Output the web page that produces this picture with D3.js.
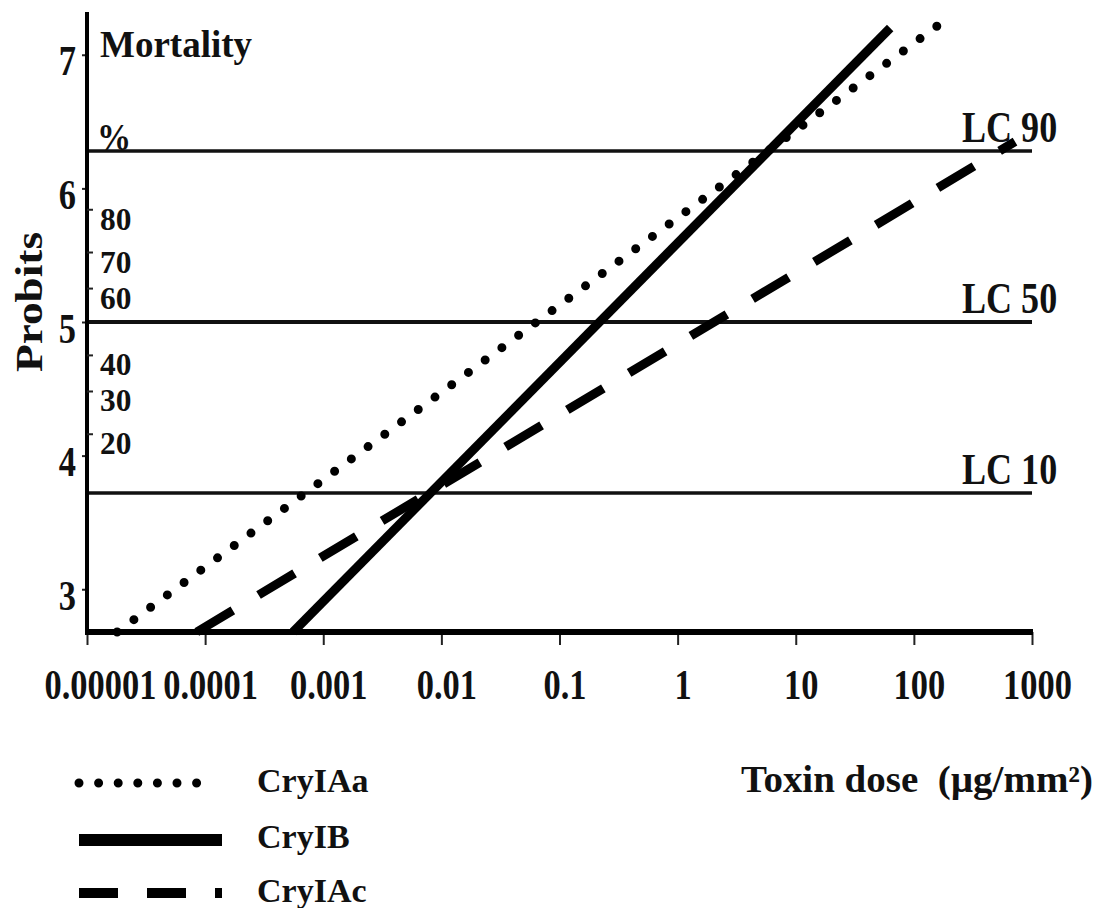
<!DOCTYPE html>
<html>
<head>
<meta charset="utf-8">
<script src="https://cdn.jsdelivr.net/npm/d3@7"></script>
<style>
  body { margin: 0; background: #fff; }
  svg text { font-family: 'Liberation Serif', 'Times New Roman', serif; font-weight: bold; fill: #111; }
</style>
</head>
<body>
<svg id="chart" width="1110" height="908"></svg>
<script>
// dose axis (log) and probit axis
const doseTicks = [0.00001, 0.0001, 0.001, 0.01, 0.1, 1, 10, 100, 1000];
const doseLabels = ['0.00001', '0.0001', '0.001', '0.01', '0.1', '1', '10', '100', '1000'];
const probitTicks = [3, 4, 5, 6, 7];

// mortality % marks on the probit axis
const mortalityLabels = ['80', '70', '60', '40', '30', '20'];
const mortalityProbits = [5.84, 5.52, 5.25, 4.75, 4.48, 4.16];

// lethal concentration reference lines
const lcLabels = ['LC 90', 'LC 50', 'LC 10'];
const lcProbits = [6.28, 5.0, 3.72];

// regression lines, [dose, probit] at both ends
const seriesNames = ['CryIAa', 'CryIB', 'CryIAc'];
const cryIAa = [[1.8e-5, 2.68], [160, 7.22]];
const cryIB = [[5.55e-4, 2.68], [63, 7.2]];
const cryIAc = [[8.5e-5, 2.68], [718, 6.35]];

const width = 1110;
const height = 908;
const svg = d3.select('#chart');

const x = d3.scaleLog().domain([1e-5, 1000]).range([87, 1032]);
const y = d3.scaleLinear().domain([2.68, 7.32]).range([632, 12]);

const styles = {
  CryIAa: { width: 9, dash: '0 20.8', cap: 'round' },
  CryIB: { width: 9, dash: null, cap: 'butt' },
  CryIAc: { width: 9, dash: '42 30', cap: 'butt' },
};

// LC lines
lcProbits.forEach((p, i) => {
  svg.append('line')
    .attr('x1', x(1e-5)).attr('x2', x(1000))
    .attr('y1', y(p)).attr('y2', y(p))
    .attr('stroke', '#111')
    .attr('stroke-width', p === 5 ? 4 : 3.5);
  svg.append('text')
    .attr('transform', `translate(962,${y(p) - 9}) scale(0.82,1)`)
    .attr('font-size', 44)
    .text(lcLabels[i]);
});

// series lines
const line = d3.line().x(d => x(d[0])).y(d => y(d[1]));
[cryIAa, cryIB, cryIAc].forEach((pts, i) => {
  const s = styles[seriesNames[i]];
  svg.append('path')
    .attr('d', line(pts))
    .attr('fill', 'none')
    .attr('stroke', '#000')
    .attr('stroke-width', s.width)
    .attr('stroke-linecap', s.cap)
    .attr('stroke-dasharray', s.dash);
});

// x axis
const xAxis = d3.axisBottom(x)
  .tickValues(doseTicks)
  .tickFormat((d, i) => doseLabels[i])
  .tickSize(13)
  .tickSizeOuter(0);

const gx = svg.append('g')
  .attr('transform', `translate(0,${y(2.68)})`)
  .call(xAxis);
gx.select('.domain').remove();
gx.selectAll('.tick line').attr('stroke', '#222').attr('stroke-width', 2);
gx.selectAll('.tick text')
  .attr('y', null).attr('dy', null)
  .attr('transform', (d, i) => `translate(${i === 0 ? 13 : 5},67) scale(0.82,1)`)
  .attr('font-size', 42)
  .attr('fill', '#111')
  .attr('font-family', null);

svg.append('line')
  .attr('x1', x(1e-5) - 2).attr('x2', x(1000) + 1)
  .attr('y1', y(2.68)).attr('y2', y(2.68))
  .attr('stroke', '#000').attr('stroke-width', 6);

// y axis
const yAxis = d3.axisLeft(y)
  .tickValues(probitTicks)
  .tickFormat(d3.format('d'))
  .tickSize(5)
  .tickSizeOuter(0);

const gy = svg.append('g')
  .attr('transform', `translate(${x(1e-5)},0)`)
  .call(yAxis);
gy.select('.domain').remove();
gy.selectAll('.tick line').attr('stroke', '#222').attr('stroke-width', 2);
gy.selectAll('.tick text')
  .attr('x', null).attr('dy', null)
  .attr('transform', 'translate(-11,20) scale(0.82,1)')
  .attr('font-size', 42)
  .attr('fill', '#111')
  .attr('font-family', null);

svg.append('line')
  .attr('x1', x(1e-5)).attr('x2', x(1e-5))
  .attr('y1', y(7.32)).attr('y2', y(2.68) + 3)
  .attr('stroke', '#000').attr('stroke-width', 4);

// mortality scale
const mort = svg.append('g');
mortalityProbits.forEach((p, i) => {
  mort.append('line')
    .attr('x1', x(1e-5)).attr('x2', x(1e-5) + 6)
    .attr('y1', y(p)).attr('y2', y(p))
    .attr('stroke', '#222').attr('stroke-width', 2);
  mort.append('text')
    .attr('transform', `translate(100,${y(p) + 20}) scale(0.98,1)`)
    .attr('font-size', 32)
    .text(mortalityLabels[i]);
});

svg.append('text')
  .attr('x', 100).attr('y', 57)
  .attr('font-size', 37)
  .text('Mortality');

svg.append('text')
  .attr('transform', 'translate(97,150) scale(0.9,1)')
  .attr('font-size', 38)
  .text('%');

svg.append('text')
  .attr('transform', 'translate(42,302) rotate(-90)')
  .attr('text-anchor', 'middle')
  .attr('font-size', 38)
  .attr('textLength', 140)
  .attr('lengthAdjust', 'spacingAndGlyphs')
  .text('Probits');

svg.append('text')
  .attr('x', 1093).attr('y', 792)
  .attr('text-anchor', 'end')
  .attr('font-size', 38)
  .attr('textLength', 352)
  .attr('lengthAdjust', 'spacingAndGlyphs')
  .text('Toxin dose\u00a0\u00a0(µg/mm²)');

// legend
const legendY = [783, 840, 893];
const legendText = [792, 848, 902];
seriesNames.forEach((name, i) => {
  const s = styles[name];
  svg.append('line')
    .attr('x1', 79).attr('x2', name === 'CryIAa' ? 216 : 222)
    .attr('y1', legendY[i]).attr('y2', legendY[i])
    .attr('stroke', '#000')
    .attr('stroke-width', name === 'CryIB' ? 12 : (name === 'CryIAc' ? 10 : 9))
    .attr('stroke-linecap', s.cap)
    .attr('stroke-dasharray', name === 'CryIAa' ? '0 19.6' : (name === 'CryIAc' ? '39 29' : null));
  svg.append('text')
    .attr('x', 257).attr('y', legendText[i])
    .attr('font-size', 34)
    .text(name);
});
</script>
</body>
</html>
